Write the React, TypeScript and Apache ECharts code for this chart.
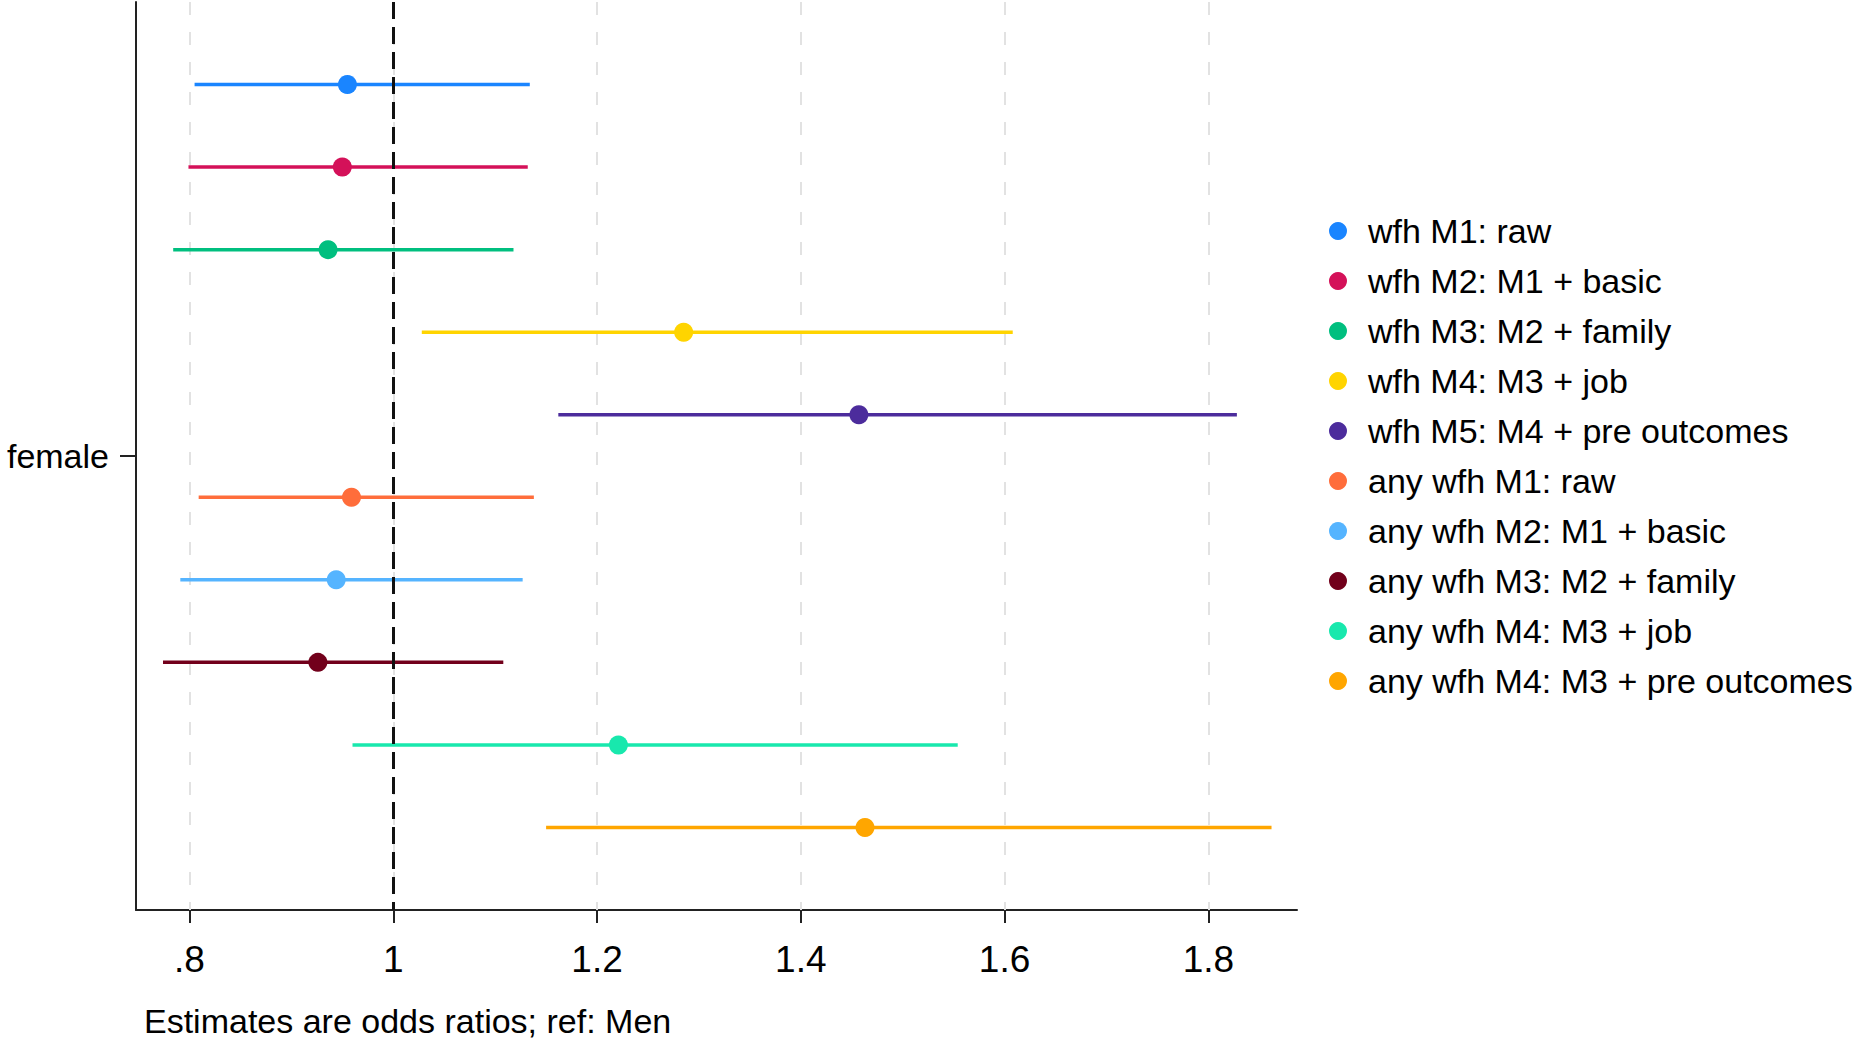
import React, { useEffect, useRef } from "react";
import * as echarts from "echarts";

const modelNames: string[] = [
  "wfh M1: raw",
  "wfh M2: M1 + basic",
  "wfh M3: M2 + family",
  "wfh M4: M3 + job",
  "wfh M5: M4 + pre outcomes",
  "any wfh M1: raw",
  "any wfh M2: M1 + basic",
  "any wfh M3: M2 + family",
  "any wfh M4: M3 + job",
  "any wfh M4: M3 + pre outcomes",
];
const estimates: number[] = [0.955, 0.95, 0.936, 1.285, 1.457, 0.959, 0.944, 0.926, 1.221, 1.463];
const ciLow: number[] = [0.805, 0.799, 0.784, 1.028, 1.162, 0.809, 0.791, 0.774, 0.96, 1.15];
const ciHigh: number[] = [1.134, 1.132, 1.118, 1.608, 1.828, 1.138, 1.127, 1.108, 1.554, 1.862];
const colors: string[] = [
  "#1a85ff", "#d41159", "#00bf7f", "#ffd400", "#4c2c9c",
  "#ff6d3b", "#55b4ff", "#72001b", "#18e8ad", "#ffa600",
];
const xTicks: number[] = [0.8, 1, 1.2, 1.4, 1.6, 1.8];
const refValue = 1;
const categoryLabel = "female";
const xTitle = "Estimates are odds ratios; ref: Men";

const FONT = "'Liberation Sans', Arial, sans-serif";

export default function App() {
  const ref = useRef<HTMLDivElement>(null);
  useEffect(() => {
    if (!ref.current) return;
    const chart = echarts.init(ref.current, null, { renderer: "svg" });
    const mid = (modelNames.length - 1) / 2;

    const modelSeries = modelNames.map((name, i) => ({
      type: "custom",
      name,
      z: 5,
      itemStyle: { color: colors[i] },
      encode: { x: [0, 1, 2], y: 3 },
      data: [[estimates[i], ciLow[i], ciHigh[i], i]],
      renderItem: (params: any, api: any) => {
        const y = api.value(3);
        const lo = api.coord([api.value(1), y]);
        const hi = api.coord([api.value(2), y]);
        const c = api.coord([api.value(0), y]);
        return {
          type: "group",
          children: [
            {
              type: "line",
              shape: { x1: lo[0], y1: lo[1], x2: hi[0], y2: hi[1] },
              style: { stroke: colors[i], lineWidth: 3.5 },
            },
            {
              type: "circle",
              shape: { cx: c[0], cy: c[1], r: 9.5 },
              style: { fill: colors[i] },
            },
          ],
        };
      },
    }));

    chart.setOption({
      animation: false,
      backgroundColor: "#ffffff",
      textStyle: { fontFamily: FONT },
      grid: { left: 136, right: 560, top: 2, bottom: 131, containLabel: false },
      xAxis: {
        type: "value",
        min: 0.7475,
        max: 1.887,
        axisLine: { show: true, onZero: false, lineStyle: { color: "#222", width: 2 } },
        axisTick: {
          show: true,
          customValues: xTicks,
          length: 13,
          lineStyle: { color: "#222", width: 2 },
        },
        axisLabel: {
          customValues: xTicks,
          formatter: (v: number) => {
            const s = String(v);
            return s.startsWith("0.") ? s.slice(1) : s;
          },
          fontSize: 37,
          color: "#000",
          margin: 31,
          fontFamily: FONT,
        },
        splitLine: { show: false },
      },
      yAxis: {
        type: "value",
        inverse: true,
        min: -1,
        max: modelNames.length,
        axisLine: { show: true, onZero: false, lineStyle: { color: "#222", width: 2 } },
        axisTick: {
          show: true,
          customValues: [mid],
          length: 16,
          lineStyle: { color: "#222", width: 2 },
        },
        axisLabel: {
          customValues: [mid],
          formatter: () => categoryLabel,
          fontSize: 34,
          color: "#000",
          margin: 27,
          fontFamily: FONT,
        },
        splitLine: { show: false },
      },
      legend: {
        orient: "vertical",
        left: 1324,
        top: 209,
        icon: "circle",
        itemWidth: 18,
        itemHeight: 18,
        itemGap: 16,
        data: modelNames,
        textStyle: { fontSize: 34, color: "#000", lineHeight: 34, padding: [0, 0, 0, 16], fontFamily: FONT },
      },
      graphic: [
        {
          type: "text",
          left: 144,
          top: 1004,
          style: { text: xTitle, fontSize: 34, fill: "#000", fontFamily: FONT },
        },
      ],
      series: [
        {
          type: "scatter",
          name: "_grid",
          z: 1,
          silent: true,
          symbolSize: 0,
          data: [],
          markLine: {
            silent: true,
            symbol: ["none", "none"],
            label: { show: false },
            lineStyle: { type: [13, 17], color: "#e2e2e2", width: 2 },
            data: xTicks.map((v) => ({ xAxis: v })),
          },
        },
        ...modelSeries,
        {
          type: "scatter",
          name: "_ref",
          z: 10,
          silent: true,
          symbolSize: 0,
          data: [],
          markLine: {
            silent: true,
            z: 10,
            symbol: ["none", "none"],
            label: { show: false },
            lineStyle: { type: [17, 8], color: "#111", width: 3 },
            data: [{ xAxis: refValue }],
          },
        },
      ],
    });
    return () => chart.dispose();
  }, []);
  return (
    <div
      ref={ref}
      style={{ position: "fixed", left: 0, top: 0, width: 1857, height: 1041, background: "#fff" }}
    />
  );
}
